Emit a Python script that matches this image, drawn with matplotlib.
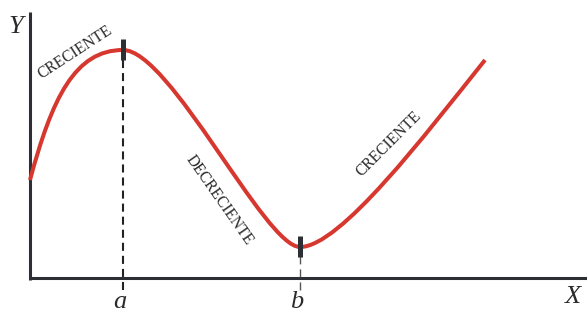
"""Curva creciente / decreciente con máximo en a y mínimo en b."""

import matplotlib
matplotlib.use("Agg")
import matplotlib.pyplot as plt
from matplotlib.path import Path
from matplotlib.patches import PathPatch

# Curva (unidades: píxeles desde el origen de los ejes).
# Tramos Bézier cúbicos: punto inicial, dos de control, punto final.
curve_x = [0, 22, 45, 93, 140, 235, 270, 310, 395, 455]
curve_y = [98, 180, 228, 228, 228, 31, 31, 31, 143, 218]

# Puntos críticos
crit_x = [93, 270]
crit_y = [228, 31]
crit_labels = ["a", "b"]

# Etiquetas de los tramos: texto, centro, ángulo
seg_labels = ["CRECIENTE", "DECRECIENTE", "CRECIENTE"]
seg_x = [45, 189, 359]
seg_y = [226, 78, 134]
seg_rot = [33, -55, 45]

RED = "#d6372f"
INK = "#2c2f34"
TXT = "#2a2a2a"

plt.rcParams["lines.scale_dashes"] = False

fig = plt.figure(figsize=(5.87, 3.11), dpi=100)
ax = fig.add_axes([0, 0, 1, 1])
ax.set_xlim(-30, 557)
ax.set_ylim(-33, 278)
ax.axis("off")

# ejes
ax.plot([0, 0], [-2, 266], color=INK, lw=2.2, solid_capstyle="butt")
ax.plot([-1, 557], [0, 0], color=INK, lw=2.2, solid_capstyle="butt")

# líneas de referencia punteadas
ax.plot([crit_x[0], crit_x[0]], [-12, crit_y[0]], color="#222222", lw=1.5,
        linestyle=(0, (5.8, 3.6)))
ax.plot([crit_x[1], crit_x[1]], [-12, crit_y[1]], color="#555555", lw=1.0,
        linestyle=(0, (5.8, 3.6)))

# curva
codes = [Path.MOVETO] + [Path.CURVE4] * (len(curve_x) - 1)
path = Path(list(zip(curve_x, curve_y)), codes)
ax.add_patch(PathPatch(path, facecolor="none", edgecolor=RED, lw=2.9,
                       capstyle="butt", zorder=3))

# marcas en máximo y mínimo
for cx, cy in zip(crit_x, crit_y):
    ax.plot([cx, cx], [cy - 10, cy + 11], color=INK, lw=3.6,
            solid_capstyle="butt", zorder=4)

serif_it = dict(family="Liberation Serif", style="italic", fontsize=19,
                color=TXT)
for cx, lab in zip(crit_x, crit_labels):
    ax.text(cx - 3, -29.5, lab, ha="center", va="baseline", **serif_it)
ax.text(543, -25, "X", ha="center", va="baseline", **serif_it)
ax.text(-14, 245, "Y", ha="center", va="baseline", **serif_it)

for lab, x, y, r in zip(seg_labels, seg_x, seg_y, seg_rot):
    ax.text(x, y, lab, rotation=r, rotation_mode="anchor", ha="center",
            va="center", family="Liberation Serif", fontsize=11.2, color=TXT)

fig.savefig("out.png", dpi=100, facecolor="white")
